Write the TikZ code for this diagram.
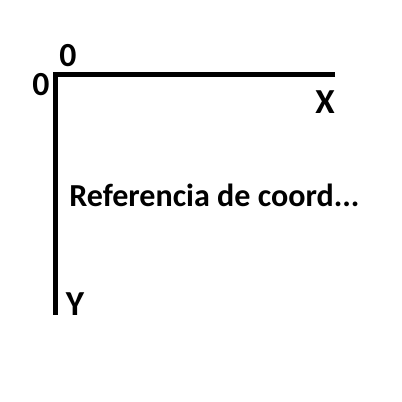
\documentclass[tikz,border=0pt]{standalone}
\usepackage{fontspec}
\setmainfont{Carlito}

\begin{document}
\begin{tikzpicture}[
  x=0.025cm,y=-0.025cm,
  axis/.style={line width=3.6pt,line join=miter},
  lbl/.style={font=\bfseries\fontsize{24}{26}\selectfont,inner sep=0pt,anchor=base},
  axlbl/.style={font=\bfseries\fontsize{25}{28}\selectfont,inner sep=0pt,anchor=base},
  caption/.style={font=\bfseries\fontsize{22.8}{26}\selectfont,inner sep=0pt,anchor=base west}]
  \useasboundingbox[fill=white] (0,0) rectangle (402,402);
  \coordinate (o) at (55.5,74.5);
  \coordinate (xend) at (335,74.5);
  \coordinate (yend) at (55.5,315);
  \draw[axis] (xend) -- (o) -- (yend);
  \node[lbl] (zx) at (68,66) {0};
  \node[lbl] (zy) at (41,95) {0};
  \node[axlbl] (xl) at (325,113) {X};
  \node[axlbl] (yl) at (75,315) {Y};
  \node[caption] (ref) at (69,206) {Referencia de coord...};
\end{tikzpicture}
\end{document}
